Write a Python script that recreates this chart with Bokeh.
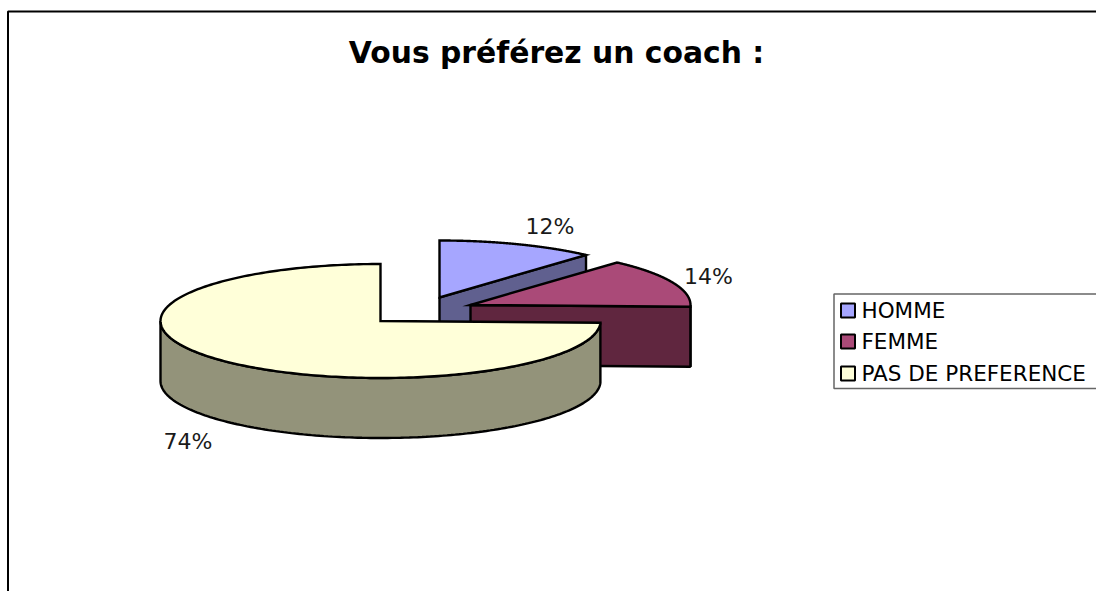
import numpy as np
from bokeh.plotting import figure
from bokeh.embed import file_html
from bokeh.resources import INLINE
from bokeh.core.properties import value

title = "Vous préférez un coach :"
categories = ["HOMME", "FEMME", "PAS DE PREFERENCE"]
shares = [11.6, 13.9, 74.5]
labels = ["12%", "14%", "74%"]
top_colors = ["#A6A6FF", "#AA4A78", "#FFFFD9"]
side_colors = ["#60608F", "#60263F", "#93937A"]

W, H = 1096, 591
FONT = value("DejaVu Sans")
centers = [(439, 297), (470, 304.5), (380, 320.5)]
RX, RY, DEPTH = 220, 57, 60
label_pos = [(549.5, 226), (708, 276), (187.5, 441)]
LW = 2.4

p = figure(width=W, height=H, x_range=(0, W), y_range=(H, 0),
           output_backend="svg", toolbar_location=None,
           min_border=0, outline_line_color=None)
p.axis.visible = False
p.grid.visible = False
p.background_fill_color = "white"
p.border_fill_color = "white"


def rim(cx, cy, a):
    return cx + RX * np.sin(a), cy - RY * np.cos(a)


cum = np.concatenate([[0], np.cumsum(shares)]) / sum(shares) * 2 * np.pi

for i in range(len(shares)):
    a0, a1 = cum[i], cum[i + 1]
    cx, cy = centers[i]

    # Front rim, the part of the arc that faces the viewer
    lo, hi = max(a0, np.pi / 2), min(a1, 3 * np.pi / 2)
    if hi > lo:
        a = np.linspace(lo, hi, 160)
        x, y = rim(cx, cy, a)
        p.patch(np.r_[x, x[::-1]], np.r_[y, y[::-1] + DEPTH],
                fill_color=side_colors[i], line_color="black", line_width=LW)

    # Cut face at the end of slices that end on the right-hand side
    if a1 < np.pi:
        ex, ey = rim(cx, cy, a1)
        p.patch([cx, ex, ex, cx], [cy, ey, ey + DEPTH, cy + DEPTH],
                fill_color=side_colors[i], line_color="black", line_width=LW)

    # Top face
    a = np.linspace(a0, a1, 240)
    x, y = rim(cx, cy, a)
    p.patch(np.r_[cx, x], np.r_[cy, y], fill_color=top_colors[i],
            line_color="black", line_width=LW, line_join="miter")

# Percentage labels
p.text([q[0] for q in label_pos], [q[1] for q in label_pos], text=labels,
       text_font=FONT, text_font_size="22px", text_color="#1a1a1a",
       text_align="center", text_baseline="middle")

# Title
p.text([556], [52], text=[title], text_font=FONT, text_font_style="bold",
       text_font_size="29.8px", text_color="black",
       text_align="center", text_baseline="middle")

# Outer frame
p.line([7.5, 7.5, W], [H, 11, 11], line_color="black", line_width=2)

# Legend
p.line([W, 833.5, 833.5, W], [293.5, 293.5, 388, 388],
       line_color="#666666", line_width=1.5)
legend_y = [310, 341, 373]
for i, name in enumerate(categories):
    p.rect([847.5], [legend_y[i]], width=14, height=14,
           fill_color=top_colors[i], line_color="black", line_width=2)
    p.text([861], [legend_y[i]], text=[name], text_font=FONT,
           text_font_size="21.5px", text_color="black",
           text_align="left", text_baseline="middle")

open("out.html", "w").write(file_html(p, INLINE))
